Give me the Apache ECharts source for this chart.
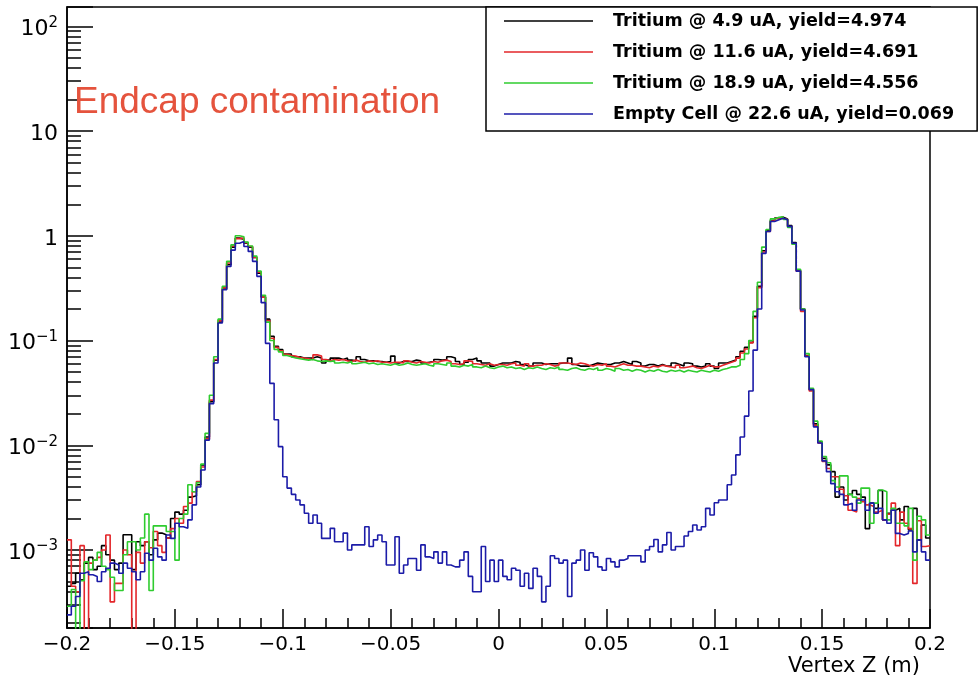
<!DOCTYPE html>
<html>
<head>
<meta charset="utf-8">
<script src="https://cdn.jsdelivr.net/npm/echarts@6/dist/echarts.min.js"></script>
<style>
  html, body { margin: 0; padding: 0; background: #ffffff; }
  #chart { width: 980px; height: 682px; }
</style>
</head>
<body>
<div id="chart"></div>
<script>
// ---- histogram binning (200 bins from -0.2 m to 0.2 m) ----
const binLow = -0.2;
const binWidth = 0.002;

// ---- series names ----
const seriesNames = [
  'Tritium @ 4.9 uA, yield=4.974',
  'Tritium @ 11.6 uA, yield=4.691',
  'Tritium @ 18.9 uA, yield=4.556',
  'Empty Cell @ 22.6 uA, yield=0.069'
];

// ---- bin contents (0 = empty bin) ----
const tritium49 = [
  4.5e-4, 4.8e-4, 6.0e-4, 5.2e-4, 7.5e-4, 8.5e-4, 6.5e-4, 7.0e-4, 1.1e-3, 9.0e-4,
  8.0e-4, 6.5e-4, 7.5e-4, 1.4e-3, 1.4e-3, 6.5e-4, 1.2e-3, 1.1e-3, 1.2e-3, 9.0e-4,
  1.25e-3, 1.45e-3, 1.4e-3, 1.3e-3, 2.0e-3, 2.3e-3, 2.2e-3, 2.4e-3, 3.2e-3, 3.3e-3,
  4.2e-3, 6.5e-3, 1.2e-2, 2.6e-2, 6.5e-2, 0.15, 0.31, 0.53, 0.78, 0.95,
  0.93, 0.85, 0.78, 0.62, 0.44, 0.26, 0.16, 0.11, 0.088, 0.082,
  0.0745, 0.0745, 0.070, 0.070, 0.068, 0.068, 0.068, 0.070, 0.068, 0.061,
  0.065, 0.068, 0.068, 0.066, 0.068, 0.065, 0.064, 0.070, 0.066, 0.064,
  0.064, 0.063, 0.063, 0.062, 0.063, 0.071, 0.061, 0.063, 0.063, 0.063,
  0.065, 0.064, 0.061, 0.062, 0.063, 0.066, 0.065, 0.066, 0.070, 0.068,
  0.063, 0.059, 0.062, 0.066, 0.068, 0.064, 0.061, 0.061, 0.057, 0.059,
  0.061, 0.061, 0.061, 0.063, 0.062, 0.059, 0.057, 0.057, 0.061, 0.061,
  0.059, 0.060, 0.060, 0.060, 0.061, 0.061, 0.068, 0.059, 0.057, 0.057,
  0.057, 0.059, 0.061, 0.060, 0.059, 0.059, 0.061, 0.061, 0.063, 0.061,
  0.059, 0.063, 0.061, 0.057, 0.059, 0.059, 0.057, 0.059, 0.057, 0.057,
  0.061, 0.059, 0.057, 0.061, 0.060, 0.057, 0.056, 0.057, 0.060, 0.057,
  0.054, 0.061, 0.061, 0.063, 0.065, 0.070, 0.079, 0.086, 0.096, 0.17,
  0.33, 0.72, 1.12, 1.40, 1.48, 1.50, 1.45, 1.25, 0.86, 0.47,
  0.20, 0.072, 0.034, 0.016, 0.0108, 7.5e-3, 6.5e-3, 5.6e-3, 3.2e-3, 4.0e-3,
  3.0e-3, 3.4e-3, 3.7e-3, 3.4e-3, 3.2e-3, 1.6e-3, 2.8e-3, 2.5e-3, 3.7e-3, 1.94e-3,
  2.24e-3, 2.4e-3, 2.5e-3, 1.94e-3, 2.6e-3, 1.55e-3, 2.5e-3, 1.25e-3, 1.73e-3, 1.3e-3
];

const tritium116 = [
  1.25e-3, 4.5e-4, 4.0e-4, 1.1e-3, 0, 7.5e-4, 8.0e-4, 8.5e-4, 1.0e-3, 1.39e-3,
  3.2e-4, 4.8e-4, 4.8e-4, 1.0e-3, 9.0e-4, 0, 9.5e-4, 7.5e-4, 1.2e-3, 1.05e-3,
  1.5e-3, 1.1e-3, 9.5e-4, 1.3e-3, 1.6e-3, 2.0e-3, 1.8e-3, 2.6e-3, 2.8e-3, 3.6e-3,
  4.5e-3, 6.2e-3, 1.15e-2, 2.7e-2, 6.6e-2, 0.155, 0.32, 0.55, 0.80, 0.94,
  0.95, 0.86, 0.79, 0.62, 0.45, 0.26, 0.155, 0.105, 0.086, 0.080,
  0.074, 0.072, 0.071, 0.069, 0.068, 0.067, 0.066, 0.073, 0.071, 0.066,
  0.064, 0.066, 0.065, 0.066, 0.064, 0.063, 0.065, 0.063, 0.062, 0.064,
  0.063, 0.064, 0.062, 0.062, 0.061, 0.062, 0.062, 0.061, 0.064, 0.062,
  0.061, 0.063, 0.062, 0.061, 0.063, 0.062, 0.064, 0.065, 0.063, 0.060,
  0.059, 0.060, 0.064, 0.063, 0.060, 0.059, 0.058, 0.060, 0.058, 0.059,
  0.059, 0.058, 0.060, 0.061, 0.058, 0.057, 0.060, 0.057, 0.058, 0.058,
  0.060, 0.059, 0.057, 0.058, 0.061, 0.061, 0.060, 0.059, 0.061, 0.060,
  0.058, 0.057, 0.059, 0.058, 0.060, 0.057, 0.056, 0.058, 0.060, 0.058,
  0.058, 0.057, 0.057, 0.056, 0.055, 0.057, 0.056, 0.058, 0.057, 0.056,
  0.055, 0.058, 0.055, 0.056, 0.057, 0.055, 0.054, 0.056, 0.058, 0.056,
  0.056, 0.058, 0.060, 0.062, 0.064, 0.068, 0.076, 0.083, 0.095, 0.165,
  0.32, 0.70, 1.10, 1.38, 1.46, 1.52, 1.44, 1.22, 0.84, 0.46,
  0.19, 0.071, 0.033, 0.0155, 0.0105, 7.0e-3, 6.0e-3, 5.0e-3, 5.0e-3, 3.8e-3,
  3.3e-3, 2.4e-3, 2.3e-3, 3.1e-3, 2.9e-3, 2.7e-3, 2.6e-3, 2.3e-3, 2.4e-3, 1.94e-3,
  2.2e-3, 2.8e-3, 1.1e-3, 2.3e-3, 1.8e-3, 1.6e-3, 4.8e-4, 1.9e-3, 1.08e-3, 1.1e-3
];

const tritium189 = [
  2.9e-4, 4.2e-4, 0, 5.1e-4, 7.7e-4, 6.5e-4, 8.0e-4, 9.5e-4, 7.0e-4, 6.5e-4,
  5.5e-4, 4.1e-4, 4.1e-4, 9.0e-4, 1.2e-3, 1.2e-3, 1.0e-3, 1.3e-3, 2.2e-3, 4.1e-4,
  1.7e-3, 1.7e-3, 1.7e-3, 1.5e-3, 1.5e-3, 8.0e-4, 2.0e-3, 2.2e-3, 4.2e-3, 3.6e-3,
  4.4e-3, 6.6e-3, 1.3e-2, 3.0e-2, 7.0e-2, 0.16, 0.33, 0.57, 0.82, 1.0,
  0.98, 0.87, 0.80, 0.64, 0.46, 0.27, 0.15, 0.10, 0.082, 0.078,
  0.072, 0.070, 0.068, 0.067, 0.066, 0.065, 0.066, 0.064, 0.063, 0.064,
  0.063, 0.064, 0.061, 0.062, 0.061, 0.063, 0.060, 0.061, 0.062, 0.060,
  0.061, 0.059, 0.060, 0.059, 0.058, 0.060, 0.058, 0.059, 0.061, 0.059,
  0.058, 0.059, 0.060, 0.058, 0.057, 0.060, 0.059, 0.058, 0.061, 0.057,
  0.056, 0.058, 0.057, 0.059, 0.056, 0.055, 0.057, 0.055, 0.054, 0.056,
  0.057, 0.055, 0.056, 0.054, 0.055, 0.053, 0.055, 0.054, 0.056, 0.054,
  0.053, 0.055, 0.054, 0.056, 0.053, 0.052, 0.054, 0.055, 0.053, 0.052,
  0.054, 0.053, 0.055, 0.052, 0.054, 0.053, 0.051, 0.054, 0.052, 0.053,
  0.051, 0.053, 0.052, 0.050, 0.052, 0.051, 0.053, 0.051, 0.050, 0.052,
  0.051, 0.052, 0.050, 0.052, 0.051, 0.050, 0.052, 0.051, 0.050, 0.052,
  0.051, 0.053, 0.054, 0.056, 0.056, 0.058, 0.066, 0.075, 0.10, 0.19,
  0.36, 0.78, 1.15, 1.45, 1.50, 1.52, 1.43, 1.20, 0.83, 0.48,
  0.20, 0.075, 0.035, 0.017, 0.011, 7.8e-3, 6.8e-3, 4.6e-3, 4.0e-3, 5.1e-3,
  5.1e-3, 3.4e-3, 3.2e-3, 2.8e-3, 3.9e-3, 3.9e-3, 1.8e-3, 2.8e-3, 3.74e-3, 3.6e-3,
  1.94e-3, 2.5e-3, 1.8e-3, 1.8e-3, 1.7e-3, 2.5e-3, 8.0e-4, 2.1e-3, 1.94e-3, 1.39e-3
];

const emptyCell = [
  2.4e-4, 2.9e-4, 3.6e-4, 6.0e-4, 6.2e-4, 5.8e-4, 5.6e-4, 5.0e-4, 6.2e-4, 6.7e-4,
  7.5e-4, 7.2e-4, 6.0e-4, 7.5e-4, 6.7e-4, 6.2e-4, 5.2e-4, 6.2e-4, 9.3e-4, 8.0e-4,
  1.04e-3, 8.6e-4, 8.0e-4, 1.39e-3, 1.29e-3, 1.8e-3, 1.67e-3, 1.61e-3, 1.94e-3, 2.7e-3,
  4.0e-3, 5.8e-3, 1.12e-2, 2.5e-2, 6.1e-2, 0.147, 0.305, 0.51, 0.73, 0.85,
  0.88, 0.79, 0.71, 0.57, 0.41, 0.23, 0.094, 0.039, 0.0175, 9.7e-3,
  5.0e-3, 3.9e-3, 3.4e-3, 3.0e-3, 2.7e-3, 2.24e-3, 1.8e-3, 2.16e-3, 1.8e-3, 1.29e-3,
  1.29e-3, 1.61e-3, 1.2e-3, 1.2e-3, 1.45e-3, 1.0e-3, 1.12e-3, 1.12e-3, 1.12e-3, 1.67e-3,
  1.08e-3, 1.25e-3, 1.39e-3, 1.2e-3, 7.2e-4, 7.2e-4, 1.34e-3, 6.0e-4, 7.2e-4, 8.3e-4,
  8.3e-4, 6.4e-4, 1.12e-3, 8.6e-4, 8.3e-4, 9.6e-4, 7.5e-4, 9.6e-4, 7.2e-4, 6.9e-4,
  6.9e-4, 8.0e-4, 9.6e-4, 5.6e-4, 4.0e-4, 4.0e-4, 1.08e-3, 5.0e-4, 8.0e-4, 5.0e-4,
  8.0e-4, 5.6e-4, 5.2e-4, 6.7e-4, 6.4e-4, 4.5e-4, 6.0e-4, 4.3e-4, 6.7e-4, 5.6e-4,
  3.2e-4, 4.5e-4, 8.8e-4, 8.3e-4, 7.5e-4, 8.0e-4, 3.6e-4, 7.5e-4, 8.0e-4, 1.0e-3,
  6.4e-4, 9.4e-4, 8.6e-4, 6.9e-4, 6.4e-4, 8.3e-4, 7.7e-4, 6.9e-4, 8.0e-4, 8.3e-4,
  8.8e-4, 8.8e-4, 8.8e-4, 7.7e-4, 1.0e-3, 1.08e-3, 1.26e-3, 9.6e-4, 1.12e-3, 1.47e-3,
  1.0e-3, 1.08e-3, 1.08e-3, 1.36e-3, 1.5e-3, 1.73e-3, 1.55e-3, 1.67e-3, 2.5e-3, 2.16e-3,
  2.83e-3, 3.0e-3, 3.0e-3, 4.2e-3, 5.2e-3, 8.1e-3, 1.2e-2, 1.9e-2, 3.3e-2, 8.1e-2,
  0.20, 0.68, 1.10, 1.37, 1.42, 1.47, 1.42, 1.23, 0.85, 0.46,
  0.196, 0.070, 0.034, 0.015, 0.0105, 7.1e-3, 5.6e-3, 4.3e-3, 3.6e-3, 3.4e-3,
  2.7e-3, 2.8e-3, 2.4e-3, 3.0e-3, 3.0e-3, 2.4e-3, 2.8e-3, 2.24e-3, 2.5e-3, 1.94e-3,
  1.8e-3, 2.4e-3, 1.44e-3, 1.39e-3, 1.44e-3, 1.52e-3, 9.6e-4, 1.25e-3, 9.6e-4, 8.0e-4
];

// ---- axis ranges / tick labels ----
const xMin = -0.2, xMax = 0.2, xStep = 0.05;
const yMin = 1.8e-4, yMax = 153;
const xTitle = 'Vertex Z (m)';
const noteText = 'Endcap contamination';

const colors = ['#000000', '#e3262a', '#2fcc2f', '#1c1ca8'];
const histograms = [tritium49, tritium116, tritium189, emptyCell];

// empty bins are drawn down past the bottom of the log frame (clipped)
const EMPTY_FLOOR = 1e-7;
function histToSteps(values) {
  const pts = values.map((v, i) => [binLow + i * binWidth, v > 0 ? v : EMPTY_FLOOR]);
  const last = values[values.length - 1];
  pts.push([binLow + values.length * binWidth, last > 0 ? last : EMPTY_FLOOR]);
  return pts;
}

function xLabel(v) {
  const s = String(Number(v.toFixed(4)));
  return s.replace('-', '\u2212');
}
function yLabel(v) {
  const e = Math.round(Math.log10(v));
  if (e === 0) return '{b|1}';
  if (e === 1) return '{b|10}';
  return '{b|10}{s|' + (e < 0 ? '\u2212' + (-e) : String(e)) + '}';
}

const FONT = 'DejaVu Sans';
const chart = echarts.init(document.getElementById('chart'), null, { renderer: 'canvas' });

chart.setOption({
  animation: false,
  backgroundColor: '#ffffff',
  title: [
    {
      text: noteText,
      left: 74, top: 84, padding: 0,
      textStyle: { color: '#e5533d', fontSize: 37, fontWeight: 'normal', fontFamily: 'Liberation Sans', lineHeight: 37 }
    },
    {
      text: xTitle,
      right: 60, top: 656, padding: 0,
      textStyle: { color: '#000000', fontSize: 21, fontWeight: 'normal', fontFamily: FONT, lineHeight: 21 }
    }
  ],
  legend: {
    orient: 'vertical',
    left: 486, top: 7,
    backgroundColor: '#ffffff',
    borderColor: '#000000', borderWidth: 1.5, borderRadius: 0,
    padding: [4, 23, 7, 18],
    icon: 'rect',
    itemWidth: 89, itemHeight: 1.6, itemGap: 11,
    selectedMode: false,
    textStyle: { fontFamily: FONT, fontWeight: 'bold', fontSize: 17.5, color: '#000000', lineHeight: 20, padding: [0, 0, 0, 15] },
    data: seriesNames
  },
  grid: {
    left: 67, top: 7, width: 863, height: 621,
    containLabel: false, outerBoundsMode: 'none',
    show: true, borderColor: '#000000', borderWidth: 1.5, backgroundColor: 'transparent'
  },
  xAxis: {
    type: 'value', min: xMin, max: xMax, interval: xStep,
    axisLine: { show: true, onZero: false, lineStyle: { color: '#000000', width: 1.5 } },
    axisTick: { show: true, inside: true, length: 19, lineStyle: { color: '#000000', width: 1.5 } },
    minorTick: { show: true, splitNumber: 5, length: 10, lineStyle: { color: '#000000', width: 1.5 } },
    splitLine: { show: false },
    axisLabel: { formatter: xLabel, fontFamily: FONT, fontSize: 20, color: '#000000', margin: 7, lineHeight: 20 }
  },
  yAxis: {
    type: 'log', logBase: 10, min: yMin, max: yMax,
    axisLine: { show: true, onZero: false, lineStyle: { color: '#000000', width: 1.5 } },
    axisTick: { show: true, inside: true, length: 26, lineStyle: { color: '#000000', width: 1.5 } },
    minorTick: { show: true, splitNumber: 9, length: 14, lineStyle: { color: '#000000', width: 1.5 } },
    splitLine: { show: false },
    axisLabel: {
      showMinLabel: false, showMaxLabel: false,
      formatter: yLabel, margin: 9, padding: [6, 0, 0, 0],
      rich: {
        b: { fontFamily: FONT, fontSize: 22, color: '#000000', lineHeight: 28 },
        s: { fontFamily: FONT, fontSize: 15, color: '#000000', lineHeight: 15, verticalAlign: 'top' }
      }
    }
  },
  series: histograms.map((h, k) => ({
    type: 'line',
    name: seriesNames[k],
    data: histToSteps(h),
    step: 'end',
    symbol: 'none', showSymbol: false,
    clip: true, silent: true,
    z: 2 + k,
    lineStyle: { color: colors[k], width: 1.6 },
    itemStyle: { color: colors[k] }
  }))
});
</script>
</body>
</html>
